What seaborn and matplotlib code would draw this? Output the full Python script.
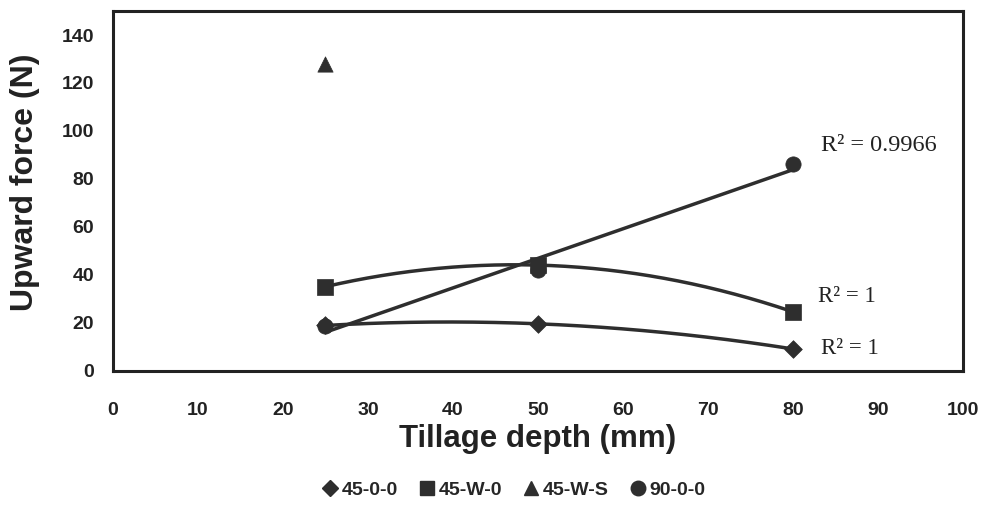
import numpy as np
import pandas as pd
import matplotlib
matplotlib.use("Agg")
import matplotlib.pyplot as plt
import seaborn as sns
from matplotlib.lines import Line2D

# ---- data ----
series_names = ["45-0-0", "45-W-0", "45-W-S", "90-0-0"]
depth_45_0_0 = [25, 50, 80]
force_45_0_0 = [18.8, 19.5, 9.0]
depth_45_W_0 = [25, 50, 80]
force_45_W_0 = [35.0, 44.0, 24.5]
depth_45_W_S = [25]
force_45_W_S = [127.8]
depth_90_0_0 = [25, 50, 80]
force_90_0_0 = [18.6, 42.0, 86.0]
r2_labels = ["R² = 1", "R² = 1", "R² = 0.9966"]
x_ticks = [0, 10, 20, 30, 40, 50, 60, 70, 80, 90, 100]
y_ticks = [0, 20, 40, 60, 80, 100, 120, 140]

sns.set_theme(style="white")
plt.rcParams['font.family'] = ['Liberation Sans', 'DejaVu Sans']

df = pd.concat([
    pd.DataFrame({"depth": depth_45_0_0, "force": force_45_0_0, "series": "45-0-0"}),
    pd.DataFrame({"depth": depth_45_W_0, "force": force_45_W_0, "series": "45-W-0"}),
    pd.DataFrame({"depth": depth_45_W_S, "force": force_45_W_S, "series": "45-W-S"}),
    pd.DataFrame({"depth": depth_90_0_0, "force": force_90_0_0, "series": "90-0-0"}),
], ignore_index=True)

col = "#2e2e2e"
markers = {"45-0-0": "D", "45-W-0": "s", "45-W-S": "^", "90-0-0": "o"}
sizes = {"45-0-0": 9, "45-W-0": 11, "45-W-S": 11, "90-0-0": 11}

fig = plt.figure(figsize=(9.84, 5.05), dpi=100)
ax = fig.add_axes([0.1148, 0.2663, 0.8638, 0.7117])

# trend lines
trend = []
for xs, ys, deg in [(depth_45_0_0, force_45_0_0, 2), (depth_45_W_0, force_45_W_0, 2), (depth_90_0_0, force_90_0_0, 1)]:
    p = np.polyfit(xs, ys, deg)
    xx = np.linspace(min(xs), max(xs), 200)
    trend.append(pd.DataFrame({"x": xx, "y": np.polyval(p, xx)}))
for t in trend:
    sns.lineplot(data=t, x="x", y="y", ax=ax, color=col, linewidth=2.5, legend=False)

for name in series_names:
    sub = df[df.series == name]
    sns.scatterplot(data=sub, x="depth", y="force", ax=ax, marker=markers[name],
                    s=sizes[name] ** 2, color=col, edgecolor=col, linewidth=0.5, legend=False, zorder=5)

ax.set_xlim(0, 100)
ax.set_ylim(0, 150)
ax.set_xticks(x_ticks)
ax.set_yticks(y_ticks)
ax.set_xticklabels([str(v) for v in x_ticks], fontsize=14, fontweight="bold", color="#222222")
ax.set_yticklabels([str(v) for v in y_ticks], fontsize=14, fontweight="bold", color="#222222")
ax.tick_params(axis="both", direction="inout", length=9, width=1.5, color="#222222")
ax.tick_params(axis="y", pad=9)
ax.tick_params(axis="x", pad=18)
for sp in ax.spines.values():
    sp.set_color("#222222")
    sp.set_linewidth(2.2)
    sp.set_visible(True)

ax.set_xlabel("Tillage depth (mm)", fontsize=22.5, fontweight="bold", color="#222222", labelpad=4)
ax.set_ylabel("Upward force (N)", fontsize=23, fontweight="bold", color="#222222")
ax.yaxis.set_label_coords(-0.086, 0.525)

# R^2 labels
serif = ['Liberation Serif', 'DejaVu Serif']
ax.text(83.3, 9.2, r2_labels[0], family=serif, fontsize=16.5, color="#222222", va="center")
ax.text(83.0, 31, r2_labels[1], family=serif, fontsize=16.5, color="#222222", va="center")
ax.text(83.3, 93.8, r2_labels[2], family=serif, fontsize=17.5, color="#222222", va="center")

handles = [Line2D([], [], linestyle="none", marker=markers[n], markersize=sizes[n] * 0.95,
                  color=col) for n in series_names]
fig.legend(handles, series_names, loc="center", bbox_to_anchor=(0.52, 0.03), ncol=4,
           frameon=False, handletextpad=0.0, columnspacing=0.9, handlelength=1.2,
           prop={"family": "Liberation Sans", "weight": "bold", "size": 14})

fig.savefig("out.png", dpi=100, facecolor="white")
